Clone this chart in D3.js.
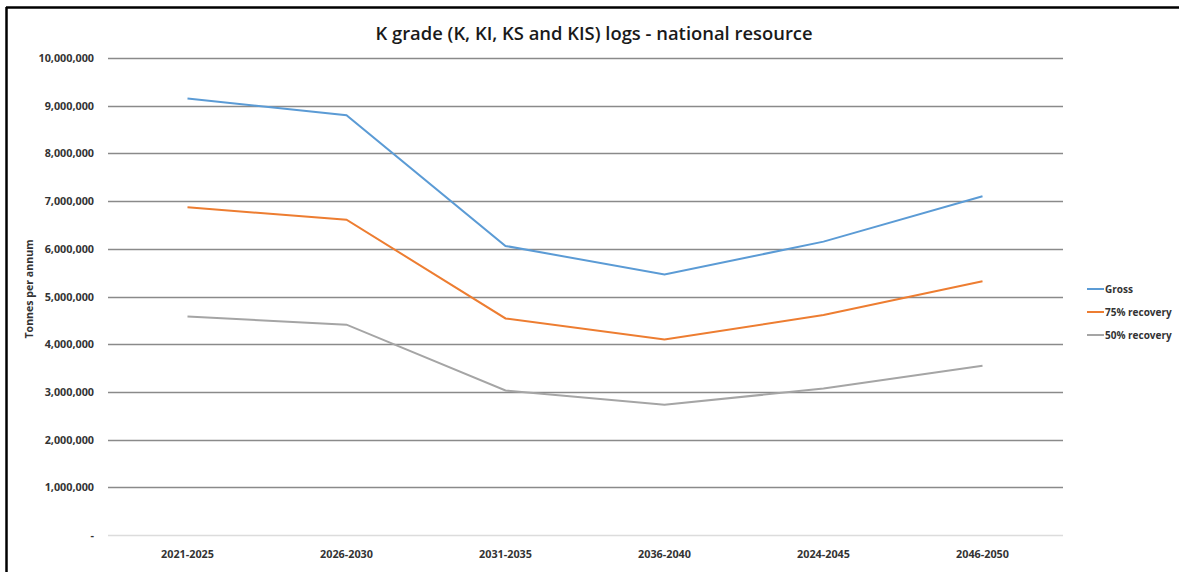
<!DOCTYPE html>
<html lang="en">
  <head>
    <meta charset="utf-8">
    <title>K grade logs - national resource</title>
    <style>
      body { margin: 0; padding: 0; background: #fff; }
      #chart { width: 1179px; height: 572px; }
      text { font-family: "Open Sans", "Liberation Sans", sans-serif; }
    </style>
  </head>
  <body>
    <div id="chart"></div>
    <script src="https://d3js.org/d3.v7.min.js"></script>
    <script>

    var periods = ['2021-2025', '2026-2030', '2031-2035', '2036-2040', '2024-2045', '2046-2050'];
    var gross = [9150000, 8800000, 6060000, 5460000, 6150000, 7100000];
    var recovery75 = [6870000, 6610000, 4540000, 4100000, 4610000, 5320000];
    var recovery50 = [4580000, 4410000, 3030000, 2730000, 3070000, 3550000];
    var seriesNames = ['Gross', '75% recovery', '50% recovery'];
    var yTicks = [0, 1000000, 2000000, 3000000, 4000000, 5000000, 6000000, 7000000, 8000000, 9000000, 10000000];

    var width = 1179;
    var height = 572;
    var colors = ['#5b9bd5', '#ed7d31', '#a5a5a5'];
    var allSeries = [gross, recovery75, recovery50];

    var svg = d3.select('#chart')
      .append('svg')
      .attr('width', width)
      .attr('height', height);

    // frame of the pasted figure
    svg.append('line')
      .attr('x1', 6).attr('x2', width).attr('y1', 7.5).attr('y2', 7.5)
      .style('stroke', '#000').style('stroke-width', 2.5);
    svg.append('line')
      .attr('x1', 6.5).attr('x2', 6.5).attr('y1', 7).attr('y2', height)
      .style('stroke', '#000').style('stroke-width', 2.5);

    var x = d3.scaleBand()
      .domain(periods)
      .range([108, 1062]);

    var y = d3.scaleLinear()
      .domain([0, 10000000])
      .range([535, 58]);

    // gridlines
    svg.append('g')
      .selectAll('line')
      .data(yTicks)
      .enter()
      .append('line')
      .attr('x1', 108)
      .attr('x2', 1063)
      .attr('y1', function(d) { return Math.round(y(d)) + 0.5; })
      .attr('y2', function(d) { return Math.round(y(d)) + 0.5; })
      .style('stroke', function(d) { return d === 0 ? '#dcdcdc' : '#8a8a8a'; })
      .style('stroke-width', 1.5);

    // y tick labels
    var fmt = d3.format(',');
    svg.append('g')
      .selectAll('text')
      .data(yTicks)
      .enter()
      .append('text')
      .text(function(d) { return d === 0 ? '-' : fmt(d); })
      .attr('x', 94)
      .attr('y', function(d) { return y(d) + 4; })
      .attr('text-anchor', 'end')
      .style('font-size', '10.8px')
      .style('font-weight', 'bold')
      .style('fill', '#333');

    // x tick labels
    svg.append('g')
      .selectAll('text')
      .data(periods)
      .enter()
      .append('text')
      .text(function(d) { return d; })
      .attr('x', function(d) { return x(d) + x.bandwidth() / 2; })
      .attr('y', 558)
      .attr('text-anchor', 'middle')
      .style('font-size', '10.8px')
      .style('font-weight', 'bold')
      .style('fill', '#333');

    // title
    svg.append('text')
      .text('K grade (K, KI, KS and KIS) logs - national resource')
      .attr('x', 594)
      .attr('y', 40)
      .attr('text-anchor', 'middle')
      .style('font-size', '18.4px')
      .style('font-weight', '600')
      .style('fill', '#1a1a1a');

    // y axis title
    svg.append('text')
      .text('Tonnes per annum')
      .attr('transform', 'translate(33,289) rotate(-90)')
      .attr('text-anchor', 'middle')
      .style('font-size', '10.6px')
      .style('font-weight', 'bold')
      .style('fill', '#333');

    // lines
    var line = d3.line()
      .x(function(d, i) { return x(periods[i]) + x.bandwidth() / 2; })
      .y(function(d) { return y(d); });

    svg.append('g')
      .selectAll('path')
      .data(allSeries)
      .enter()
      .append('path')
      .attr('d', line)
      .style('fill', 'none')
      .style('stroke', function(d, i) { return colors[i]; })
      .style('stroke-width', 2);

    // legend
    var legend = svg.append('g')
      .selectAll('g')
      .data(seriesNames)
      .enter()
      .append('g')
      .attr('transform', function(d, i) { return 'translate(1087,' + (289 + i * 23) + ')'; });

    legend.append('line')
      .attr('x1', 0).attr('x2', 17)
      .style('stroke', function(d, i) { return colors[i]; })
      .style('stroke-width', 2);

    legend.append('text')
      .text(function(d) { return d; })
      .attr('x', 18)
      .attr('y', 3.5)
      .style('font-size', '10px')
      .style('font-weight', 'bold')
      .style('fill', '#333');

    </script>
  </body>
</html>
